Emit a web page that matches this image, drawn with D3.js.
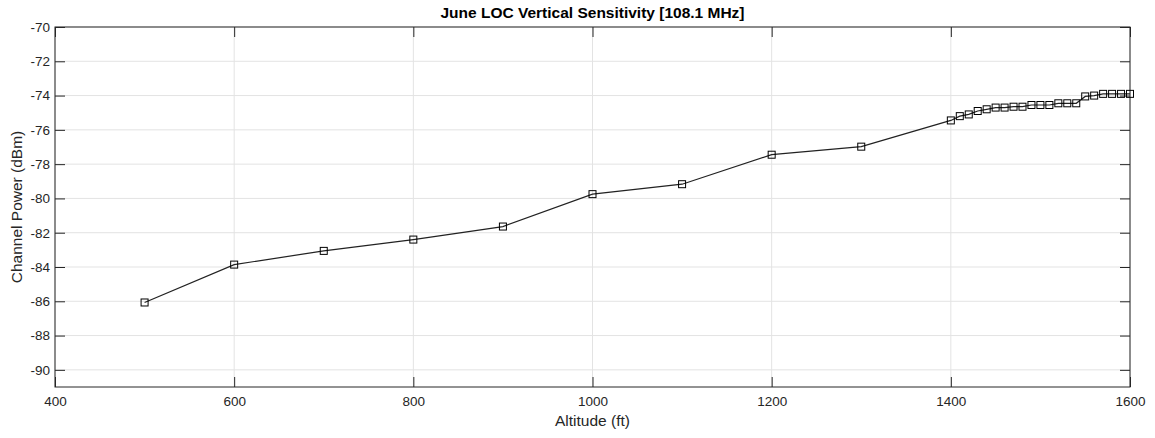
<!DOCTYPE html>
<html>
<head>
<meta charset="utf-8">
<script src="https://cdn.jsdelivr.net/npm/d3@7"></script>
<style>
  body { margin: 0; background: #fff; }
  text { font-family: "Liberation Sans", Arial, sans-serif; }
</style>
</head>
<body>
<svg width="1155" height="438"></svg>
<script>
const altitude = [500, 600, 700, 800, 900, 1000, 1100, 1200, 1300, 1400,
    1410, 1420, 1430, 1440, 1450, 1460, 1470, 1480, 1490, 1500,
    1510, 1520, 1530, 1540, 1550, 1560, 1570, 1580, 1590, 1600];
const power = [-86.07, -83.86, -83.06, -82.4, -81.64, -79.75, -79.17, -77.45, -76.98, -75.45,
    -75.2, -75.1, -74.9, -74.8, -74.7, -74.7, -74.65, -74.65, -74.55, -74.55,
    -74.55, -74.45, -74.45, -74.45, -74.05, -74.0, -73.9, -73.9, -73.9, -73.9];
const xTicks = [400, 600, 800, 1000, 1200, 1400, 1600];
const yTicks = [-70, -72, -74, -76, -78, -80, -82, -84, -86, -88, -90];

const plotLeft = 55, plotRight = 1130, plotTop = 27, plotBottom = 387;
const axisColor = '#262626';

const svg = d3.select('svg');

const x = d3.scaleLinear().domain([400, 1600]).range([plotLeft, plotRight]);
const y = d3.scaleLinear().domain([-91, -70]).range([plotBottom, plotTop]);
const fmt = d => String(d);

// grid
svg.append('g')
    .selectAll('line')
    .data(xTicks)
    .join('line')
    .attr('x1', d => x(d)).attr('x2', d => x(d))
    .attr('y1', plotTop).attr('y2', plotBottom)
    .attr('stroke', '#e3e3e3');

svg.append('g')
    .selectAll('line')
    .data(yTicks)
    .join('line')
    .attr('x1', plotLeft).attr('x2', plotRight)
    .attr('y1', d => y(d)).attr('y2', d => y(d))
    .attr('stroke', '#e3e3e3');

// axes, ticks pointing inward on all four sides
const tickLen = 10;
const styleAxis = g => {
    g.select('.domain').remove();
    g.selectAll('.tick line').attr('stroke', axisColor);
    g.selectAll('.tick text')
        .attr('fill', axisColor)
        .attr('font-size', 13.5);
};

svg.append('g')
    .attr('transform', `translate(0,${plotBottom})`)
    .call(d3.axisBottom(x).tickValues(xTicks).tickFormat(fmt).tickSizeInner(-tickLen).tickSizeOuter(0).tickPadding(9))
    .call(styleAxis);

svg.append('g')
    .attr('transform', `translate(0,${plotTop})`)
    .call(d3.axisTop(x).tickValues(xTicks).tickSizeInner(-tickLen).tickSizeOuter(0).tickFormat(''))
    .call(styleAxis);

svg.append('g')
    .attr('transform', `translate(${plotLeft},0)`)
    .call(d3.axisLeft(y).tickValues(yTicks).tickFormat(fmt).tickSizeInner(-tickLen).tickSizeOuter(0).tickPadding(5))
    .call(styleAxis);

svg.append('g')
    .attr('transform', `translate(${plotRight},0)`)
    .call(d3.axisRight(y).tickValues(yTicks).tickSizeInner(-tickLen).tickSizeOuter(0).tickFormat(''))
    .call(styleAxis);

// box
svg.append('rect')
    .attr('x', plotLeft).attr('y', plotTop)
    .attr('width', plotRight - plotLeft).attr('height', plotBottom - plotTop)
    .attr('fill', 'none')
    .attr('stroke', axisColor);

const data = altitude.map((a, i) => ({ a: a, p: power[i] }));

svg.append('path')
    .datum(data)
    .attr('d', d3.line().x(d => x(d.a)).y(d => y(d.p)))
    .attr('fill', 'none')
    .attr('stroke', '#222')
    .attr('stroke-width', 1.2);

svg.append('g')
    .selectAll('rect')
    .data(data)
    .join('rect')
    .attr('x', d => x(d.a) - 3.5)
    .attr('y', d => y(d.p) - 3.5)
    .attr('width', 7).attr('height', 7)
    .attr('fill', 'none')
    .attr('stroke', '#000')
    .attr('stroke-width', 1);

// labels
svg.append('text')
    .attr('x', (plotLeft + plotRight) / 2).attr('y', 18)
    .attr('text-anchor', 'middle')
    .attr('font-size', 15.5)
    .attr('font-weight', 'bold')
    .attr('fill', '#000')
    .text('June LOC Vertical Sensitivity [108.1 MHz]');

svg.append('text')
    .attr('x', (plotLeft + plotRight) / 2).attr('y', 426)
    .attr('text-anchor', 'middle')
    .attr('font-size', 15.5)
    .attr('fill', axisColor)
    .text('Altitude (ft)');

svg.append('text')
    .attr('transform', `translate(22,${(plotTop + plotBottom) / 2}) rotate(-90)`)
    .attr('text-anchor', 'middle')
    .attr('font-size', 15.5)
    .attr('fill', axisColor)
    .text('Channel Power (dBm)');
</script>
</body>
</html>
